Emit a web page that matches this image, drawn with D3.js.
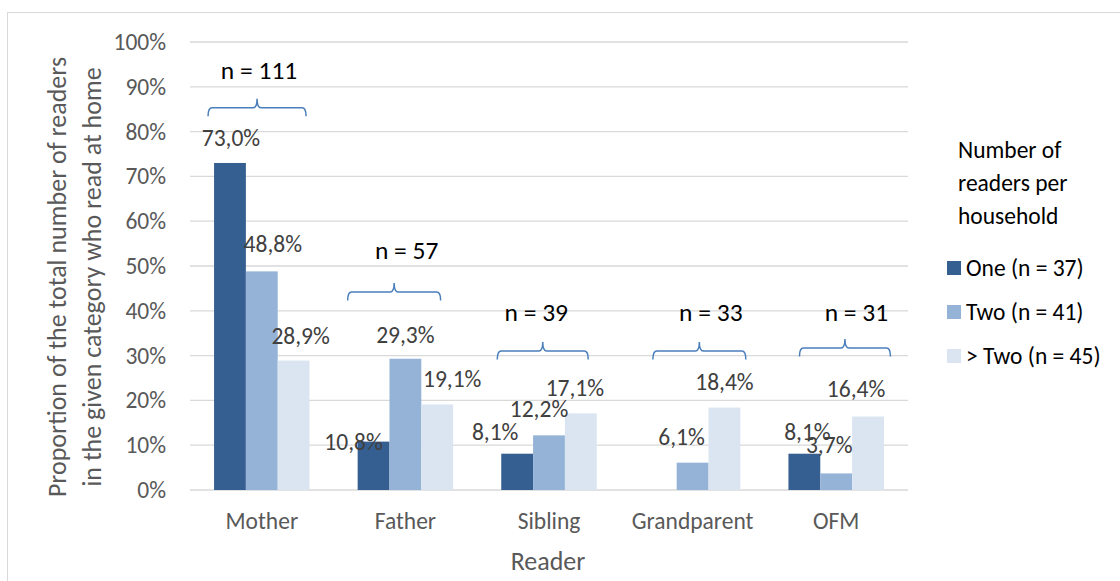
<!DOCTYPE html>
<html><head><meta charset="utf-8">
<script src="https://cdn.jsdelivr.net/npm/d3@7"></script>
<style>body{margin:0;background:#fff}svg{display:block}text{font-family:Carlito,Lato,"Open Sans",sans-serif}</style>
</head><body><svg id="c" width="1120" height="581"></svg>
<script>
const categories = ["Mother","Father","Sibling","Grandparent","OFM"];
const seriesNames = ["One (n = 37)","Two (n = 41)","> Two (n = 45)"];
const one = [73.0,10.8,8.1,null,8.1];
const two = [48.8,29.3,12.2,6.1,3.7];
const moreThanTwo = [28.9,19.1,17.1,18.4,16.4];
const groupN = [111,57,39,33,31];
const yTicks = [0,10,20,30,40,50,60,70,80,90,100];

// annotation styling (label nudges in px, brace levels in % units)
const labelShift = [
  [[1,-25],[11,-27],[7,-25]],
  [[-20,0],[0,-24],[15,-25]],
  [[-22,-22],[-10,-26],[-6,-25]],
  [[0,0],[-11,-26],[0,-26]],
  [[3,-22],[-7,-28],[-12,-28]]
];
const braceLevel = [85.3,44.2,31.0,31.0,31.7];
const braceSpan = [[-6,92],[-10,83],[-4,87],[8,101],[11,102]];
const nLevel = [91.8,51.6,37.8,37.8,37.8];
const nOffset = [45,49,35,66,68];

const colors = ["#365F91","#95B3D7","#DBE5F1"];
const seriesData = [one,two,moreThanTwo];
const FS = 23.5;

const svg = d3.select("#c");
svg.append("rect").attr("x",7.5).attr("y",12.5).attr("width",1130).attr("height",600)
  .attr("fill","none").attr("stroke","#d9d9d9").attr("stroke-width",1);

const m = {l:190,r:908,t:42,b:490};
const x = d3.scaleBand().domain(categories).range([m.l,m.r]).paddingInner(0.335).paddingOuter(0.1675);
const xs = d3.scaleBand().domain(d3.range(3)).range([0,x.bandwidth()]);
const y = d3.scaleLinear().domain([0,100]).range([m.b,m.t]);

// gridlines
svg.append("g").selectAll("line").data(yTicks).join("line")
  .attr("x1",m.l).attr("x2",m.r).attr("y1",d=>y(d)).attr("y2",d=>y(d))
  .attr("stroke","#d9d9d9").attr("stroke-width",1.3);

// y axis labels
const yAxis = d3.axisLeft(y).tickValues(yTicks).tickFormat(d=>d+"%").tickSize(0).tickPadding(24);
const ya = svg.append("g").attr("transform",`translate(${m.l},0)`).call(yAxis);
ya.select(".domain").remove();
ya.selectAll("text").attr("font-size",FS).attr("fill","#595959").attr("font-family","Carlito,Lato,sans-serif");

// x axis labels
const xAxis = d3.axisBottom(x).tickSize(0).tickPadding(22);
const xa = svg.append("g").attr("transform",`translate(0,${m.b})`).call(xAxis);
xa.select(".domain").remove();
xa.selectAll("text").attr("font-size",FS).attr("fill","#595959").attr("font-family","Carlito,Lato,sans-serif");

// bars
const bars = [];
seriesData.forEach((s,si)=>{
  s.forEach((v,ci)=>{ if(v!==null) bars.push({si,ci,v}); });
});
svg.append("g").selectAll("rect").data(bars).join("rect")
  .attr("x",d=>x(categories[d.ci])+xs(d.si))
  .attr("width",xs.bandwidth())
  .attr("y",d=>y(d.v)).attr("height",d=>y(0)-y(d.v))
  .attr("fill",d=>colors[d.si]);

// data labels
svg.append("g").selectAll("text").data(bars).join("text")
  .attr("x",d=>x(categories[d.ci])+xs(d.si)+xs.bandwidth()/2+labelShift[d.ci][d.si][0])
  .attr("y",d=>y(d.v)+labelShift[d.ci][d.si][1]+8)
  .attr("text-anchor","middle").attr("font-size",FS).attr("fill","#404040")
  .text(d=>d.v.toFixed(1).replace(".",",")+"%");

// braces
const bg = svg.append("g");
categories.forEach((c,i)=>{
  const x0 = x(c)+braceSpan[i][0], x1 = x(c)+braceSpan[i][1], xc=(x0+x1)/2;
  const ym = y(braceLevel[i]), yb = ym+8.5, yt = ym-9;
  const r=4;
  const p = `M${x0},${yb} Q${x0},${ym} ${x0+r},${ym} L${xc-r},${ym} Q${xc},${ym} ${xc},${yt} Q${xc},${ym} ${xc+r},${ym} L${x1-r},${ym} Q${x1},${ym} ${x1},${yb}`;
  bg.append("path").attr("d",p).attr("fill","none").attr("stroke","#4A7EBB").attr("stroke-width",1.5);
  svg.append("text").attr("x",x(c)+nOffset[i]).attr("y",y(nLevel[i])).attr("text-anchor","middle")
    .attr("font-size",25.5).attr("fill","#000").text("n = "+groupN[i]);
});

// axis titles
const yt = svg.append("text").attr("font-size",26).attr("fill","#595959").attr("text-anchor","middle").attr("transform","rotate(-90)");
yt.append("tspan").attr("x",-277).attr("y",66).text("Proportion of the total number of readers");
yt.append("tspan").attr("x",-277).attr("y",101).text("in the given category who read at home");
svg.append("text").attr("x",548).attr("y",570).attr("text-anchor","middle").attr("font-size",26).attr("fill","#595959").text("Reader");

// legend
const lg = svg.append("g");
["Number of","readers per","household"].forEach((t,i)=>{
  lg.append("text").attr("x",958).attr("y",158+i*33).attr("font-size",FS).attr("fill","#000").text(t);
});
seriesNames.forEach((n,i)=>{
  const yy = 261+i*44;
  lg.append("rect").attr("x",947).attr("y",yy).attr("width",14).attr("height",14).attr("fill",colors[i]);
  lg.append("text").attr("x",966).attr("y",yy+15).attr("font-size",FS).attr("fill","#000").text(n);
});
</script></body></html>
